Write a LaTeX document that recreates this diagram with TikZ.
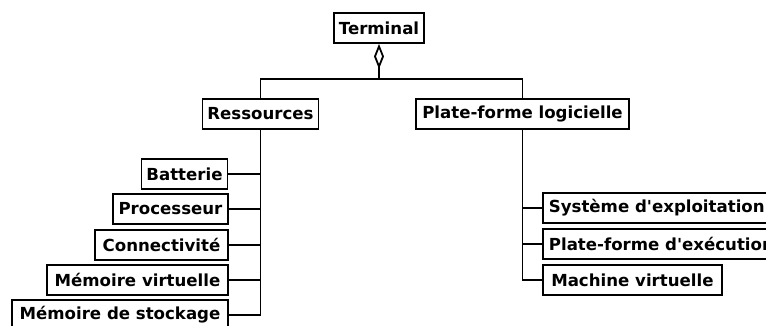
\documentclass[tikz,border=0pt]{standalone}
\usepackage{fontspec}
\setmainfont{DejaVu Sans}
\usetikzlibrary{arrows.meta}
\begin{document}
\begin{tikzpicture}[x=1pt,y=-1pt,
  box/.style={draw,line width=1.8pt,minimum height=30pt,inner xsep=5pt,inner ysep=0pt,
    font=\fontsize{16.6}{19}\selectfont\bfseries},
  conn/.style={line width=1.8pt}]
\useasboundingbox (0,0) rectangle (766,326);
\fill[white] (0,0) rectangle (766,326);
\node[box,minimum width=90pt] (term) at (379,28) {Terminal};
\node[box,minimum width=115pt] (res) at (260.5,114) {Ressources};
\node[box,minimum width=213pt] (plat) at (522.5,114) {Plate-forme logicielle};
\coordinate (hub) at (379,79);
\node[box,minimum width=85pt] (bat) at (184.5,174) {Batterie};
\node[box,minimum width=115pt] (proc) at (170.5,209) {Processeur};
\node[box,minimum width=133pt] (conn) at (161.5,245) {Connectivité};
\node[box,minimum width=181pt] (mv) at (137.5,280) {Mémoire virtuelle};
\node[box,minimum width=216pt] (ms) at (120,315) {Mémoire de stockage};
\node[box,anchor=west,inner xsep=6pt] (sys) at (542,208) {Système d\textquotesingle exploitation};
\node[box,anchor=west,inner xsep=6pt] (pfe) at (542,244) {Plate-forme d\textquotesingle exécution};
\node[box,anchor=west,minimum width=179pt] (mach) at (542,280) {Machine virtuelle};
\draw[conn,{Diamond[open,length=25pt,width=10pt,line width=1.8pt]}-] (term.south) -- (hub);
\draw[conn] (res.north) |- (hub) -| (plat.north);
\foreach \t in {bat,proc,conn,mv,ms} \draw[conn] (res.south) |- (\t.east);
\foreach \t in {sys,pfe,mach} \draw[conn] (plat.south) |- (\t.west);
\end{tikzpicture}
\end{document}
